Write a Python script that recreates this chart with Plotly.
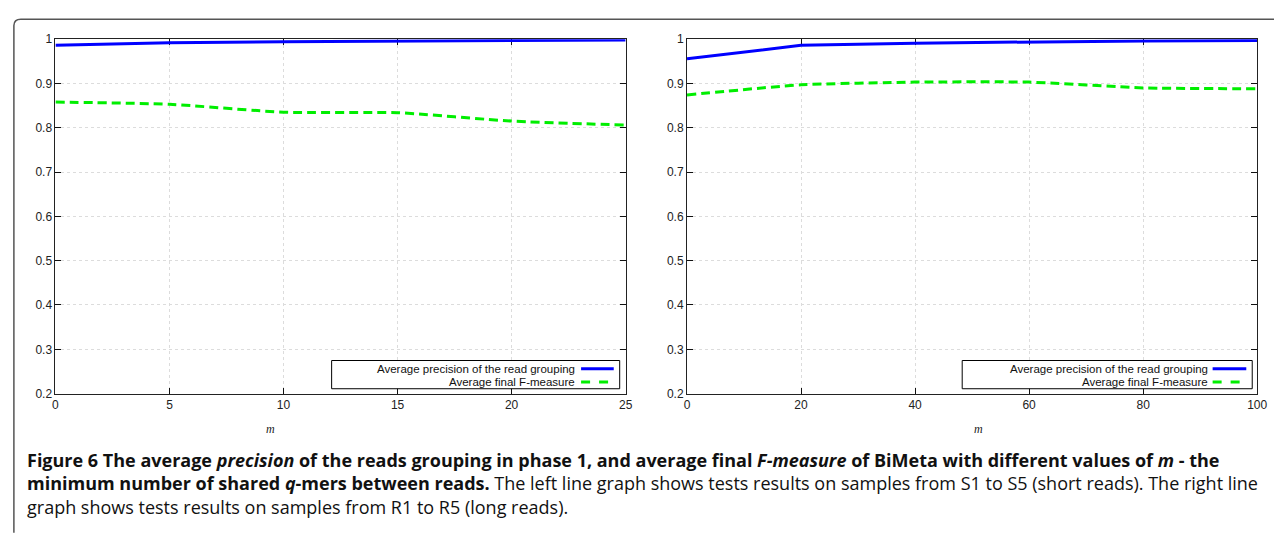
import plotly.graph_objects as go

# ---- data ----
m_short = [0, 5, 10, 15, 20, 25]
prec_short = [0.986, 0.992, 0.994, 0.996, 0.997, 0.998]
fmeas_short = [0.858, 0.853, 0.835, 0.834, 0.815, 0.806]

m_long = [0, 20, 40, 60, 80, 100]
prec_long = [0.956, 0.986, 0.991, 0.994, 0.996, 0.997]
fmeas_long = [0.874, 0.897, 0.903, 0.903, 0.890, 0.888]

y_ticks = [0.2, 0.3, 0.4, 0.5, 0.6, 0.7, 0.8, 0.9, 1.0]
y_ticklabels = ["0.2", "0.3", "0.4", "0.5", "0.6", "0.7", "0.8", "0.9", "1"]
x_ticks_short = [0, 5, 10, 15, 20, 25]
x_ticks_long = [0, 20, 40, 60, 80, 100]

name_prec = "Average precision of the read grouping"
name_f = "Average final F-measure"

W, H = 1284, 535
def px(x):
    return x / W
def py(y):
    return 1 - y / H

BLUE = "#0000ff"
GREEN = "#00ee00"

fig = go.Figure()
fig.add_trace(go.Scatter(x=m_short, y=prec_short, mode="lines", name=name_prec,
                         line=dict(color=BLUE, width=3), xaxis="x", yaxis="y"))
fig.add_trace(go.Scatter(x=m_short, y=fmeas_short, mode="lines", name=name_f,
                         line=dict(color=GREEN, width=3, dash="9px,5px", shape="spline", smoothing=0.5),
                         xaxis="x", yaxis="y"))
fig.add_trace(go.Scatter(x=m_long, y=prec_long, mode="lines", name=name_prec,
                         line=dict(color=BLUE, width=3), xaxis="x2", yaxis="y2"))
fig.add_trace(go.Scatter(x=m_long, y=fmeas_long, mode="lines", name=name_f,
                         line=dict(color=GREEN, width=3, dash="9px,5px", shape="spline", smoothing=0.5),
                         xaxis="x2", yaxis="y2"))

tickfont = dict(family="Liberation Sans, Arial", size=12, color="#222")
common_axis = dict(showline=True, linecolor="#222", linewidth=1, mirror="ticks",
                   ticks="inside", ticklen=6, tickcolor="#111", tickwidth=1,
                   showgrid=True, gridcolor="#dcdcdc", griddash="dot", gridwidth=1,
                   zeroline=False, tickfont=tickfont, layer="below traces")

ydom = [py(397), py(33)]
fig.update_layout(
    width=W, height=H, margin=dict(l=0, r=0, t=0, b=0),
    paper_bgcolor="white", plot_bgcolor="white", showlegend=False,
    xaxis=dict(domain=[px(53), px(629)], range=[0, 25], tickvals=x_ticks_short, anchor="y", **common_axis),
    yaxis=dict(domain=ydom, range=[0.2, 1.0], tickvals=y_ticks, ticktext=y_ticklabels, anchor="x", **common_axis),
    xaxis2=dict(domain=[px(691), px(1267)], range=[0, 100], tickvals=x_ticks_long, anchor="y2", **common_axis),
    yaxis2=dict(domain=ydom, range=[0.2, 1.0], tickvals=y_ticks, ticktext=y_ticklabels, anchor="x2", **common_axis),
)

shapes = []
annots = []

# outer frame (rounded top-left corner)
shapes.append(dict(type="path", xref="paper", yref="paper",
                   path=f"M {px(11)},{py(540)} L {px(11)},{py(19)} Q {px(11)},{py(12.5)} {px(18)},{py(12.5)} L {px(1284)},{py(12.5)}",
                   line=dict(color="#555", width=1.5)))

def legend(x0, x1, y0, y1, xtext, xs0, xs1):
    shapes.append(dict(type="rect", xref="paper", yref="paper", x0=px(x0), x1=px(x1), y0=py(y1), y1=py(y0),
                       line=dict(color="black", width=1), fillcolor="white", layer="above"))
    yA, yB = y0 + 8.5, y0 + 22
    for yy, txt, col, dash in [(yA, name_prec, BLUE, "solid"), (yB, name_f, GREEN, "dash")]:
        annots.append(dict(x=px(xtext), y=py(yy), xref="paper", yref="paper", text=txt, showarrow=False,
                           xanchor="right", yanchor="middle",
                           font=dict(family="Liberation Sans, Arial", size=11.5, color="#111")))
        shapes.append(dict(type="line", xref="paper", yref="paper", x0=px(xs0), x1=px(xs1), y0=py(yy), y1=py(yy),
                           line=dict(color=col, width=3, dash=dash)))

legend(332, 623, 363, 392, 580, 584, 617)
legend(969, 1262, 363, 392, 1219, 1222, 1256)

# axis titles
for xx in (270, 985):
    annots.append(dict(x=px(xx), y=py(433), xref="paper", yref="paper", text="<i>m</i>", showarrow=False,
                       xanchor="center", yanchor="middle",
                       font=dict(family="Liberation Serif, Times New Roman", size=12, color="#222")))

# caption (single multi-line text block)
caption = (
    "<b>Figure 6 The average <i>precision</i> of the reads grouping in phase 1, and average final <i>F-measure</i> of BiMeta with different values of <i>m</i> - the</b><br>"
    "<b>minimum number of shared <i>q</i>-mers between reads.</b> The left line graph shows tests results on samples from S1 to S5 (short reads). The right line<br>"
    "graph shows tests results on samples from R1 to R5 (long reads)."
)
annots.append(dict(x=px(22), y=py(489), xref="paper", yref="paper", text=caption, showarrow=False,
                   xanchor="left", yanchor="middle", align="left",
                   font=dict(family="Open Sans", size=18, color="#111")))

fig.update_layout(shapes=shapes, annotations=annots)
fig.write_html("out.html", config={"displayModeBar": False},
               post_script="document.body.style.margin='0';document.body.style.overflow='hidden';")
